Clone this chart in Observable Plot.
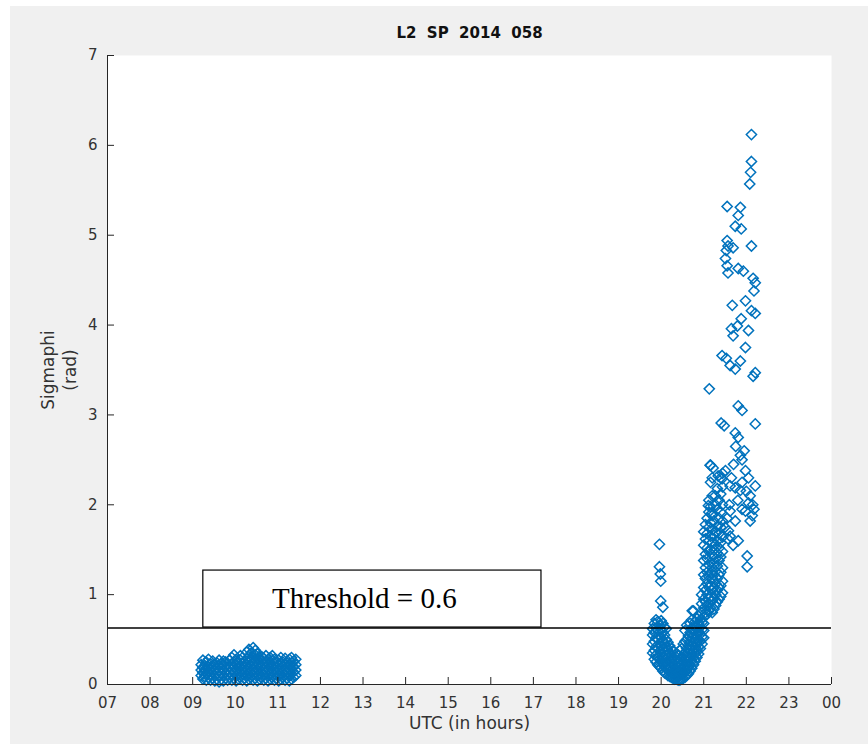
<!DOCTYPE html>
<html><head><meta charset="utf-8">
<script src="https://cdn.jsdelivr.net/npm/d3@7"></script>
<script src="https://cdn.jsdelivr.net/npm/@observablehq/plot@0.6"></script>
<style>
html,body{margin:0;padding:0;background:#fff;}
#chart{position:absolute;left:10px;top:6px;width:858px;height:738px;background:#f0f0f0;}
</style></head><body><div id="chart"></div>
<script>
// ---- Axis ticks ----
const xTicks = [7,8,9,10,11,12,13,14,15,16,17,18,19,20,21,22,23,24];
const xTickLabels = ["07","08","09","10","11","12","13","14","15","16","17","18","19","20","21","22","23","00"];
const yTicks = [0,1,2,3,4,5,6,7];
const titleText = "L2  SP  2014  058";
const xLabel = "UTC (in hours)";
const yLabel = "Sigmaphi\n(rad)";
const thresholdValue = 0.63;
const thresholdText = "Threshold = 0.6";
const thresholdBox = {x1: 9.25, x2: 17.19, y1: 0.634, y2: 1.268, tx: 13.03, ty: 0.95};

// ---- Morning pass (columns of samples) ----
const amHours = [9.20,9.24,9.28,9.32,9.37,9.42,9.47,9.52,9.57,9.62,9.67,9.72,9.77,9.82,9.87,9.92,9.97,10.02,10.07,10.12,10.17,10.22,10.27,10.32,10.37,10.42,10.47,10.52,10.57,10.62,10.67,10.72,10.77,10.82,10.87,10.92,10.97,11.02,11.07,11.12,11.17,11.22,11.27,11.32,11.37,11.42];
const amSigma = [
 [.10,.16,.22],[.06,.13,.19,.27],[.09,.15,.21],[.05,.12,.18,.25],[.08,.14,.20,.28],
 [.05,.11,.17,.23],[.07,.13,.19,.26],[.04,.10,.16,.22],[.06,.12,.18,.24],[.03,.09,.15,.21,.27],
 [.06,.12,.18,.23],[.04,.10,.16,.22,.26],[.07,.13,.19,.25],[.05,.11,.17,.23],[.08,.14,.20,.27],
 [.05,.11,.17,.23,.30],[.07,.13,.19,.25,.33],[.04,.10,.16,.22,.28],[.06,.12,.18,.24],[.08,.14,.20,.27,.32],
 [.05,.11,.17,.23,.30],[.07,.13,.19,.25],[.04,.10,.16,.22,.29,.36],[.06,.12,.18,.24,.31,.39],[.08,.14,.20,.27,.35],
 [.05,.11,.17,.23,.30,.41],[.07,.13,.19,.26,.33,.38],[.04,.10,.16,.22,.28,.34],[.06,.12,.18,.24,.30],[.08,.14,.20,.26,.31],
 [.05,.11,.17,.23,.29],[.07,.13,.19,.25,.32],[.04,.10,.16,.22,.28],[.06,.12,.18,.24,.30],[.08,.14,.20,.26,.32],
 [.05,.11,.17,.23,.28],[.07,.13,.19,.25],[.04,.10,.16,.22,.27],[.06,.12,.18,.24,.30],[.08,.14,.20,.25],
 [.05,.11,.17,.23,.29],[.07,.13,.19,.24],[.04,.10,.16,.22,.28],[.06,.12,.18,.24,.30],[.08,.14,.20,.26],
 [.10,.16,.22,.28]
];

// ---- Evening pass, low V-shaped part ----
const pmLowHours = [19.80,19.84,19.88,19.92,19.96,20.00,20.04,20.08,20.12,20.16,20.20,20.24,20.28,20.32,20.36,20.40,20.44,20.48,20.52,20.56,20.60,20.64,20.68,20.72,20.76,20.80,20.84,20.88,20.92,20.96,21.00];
const pmLowSigma = [
 [.35,.45,.55,.62],[.28,.38,.48,.58,.68],[.25,.33,.42,.52,.63,.72],[.22,.30,.40,.50,.60,.70],
 [.20,.28,.37,.46,.55,.66],[.18,.26,.34,.43,.52,.61,.71],[.15,.23,.31,.40,.49,.58,.68],[.13,.20,.28,.37,.46,.55,.64],
 [.12,.18,.25,.33,.42,.50,.62],[.10,.16,.23,.30,.38,.47],[.09,.14,.20,.27,.35,.43],[.08,.13,.19,.25,.32,.40],
 [.07,.12,.17,.23,.30,.37],[.06,.11,.16,.22,.28],[.06,.10,.15,.21,.27,.34],[.05,.09,.14,.20,.26,.33],
 [.05,.10,.15,.21,.28,.38],[.06,.11,.16,.22,.30,.40],[.07,.12,.18,.25,.33,.45],[.08,.14,.20,.28,.36,.48,.60],
 [.10,.16,.23,.31,.40,.50,.66],[.12,.19,.27,.35,.44,.54],[.15,.22,.30,.39,.48,.58,.68],[.18,.26,.34,.43,.52,.62,.72],
 [.22,.30,.38,.47,.56,.65,.82],[.26,.34,.42,.51,.60,.70],[.30,.38,.46,.55,.64,.73],[.34,.42,.50,.59,.68,.76],
 [.40,.48,.56,.64,.72],[.45,.53,.61,.69],[.52,.60,.68]
];

// ---- Evening pass, rising column ----
const pmMidHours = [20.95,21.00,21.04,21.08,21.12,21.16,21.20,21.24,21.28,21.32,21.36,21.40,21.44];
const pmMidSigma = [
 [.80,.90,1.0],
 [.75,.85,.95,1.08,1.22,1.38,1.55,1.70],
 [.80,.92,1.05,1.18,1.30,1.45,1.62,1.78],
 [.78,.88,1.00,1.12,1.25,1.40,1.52,1.68,1.85],
 [.82,.95,1.08,1.20,1.33,1.48,1.60,1.75,1.92,2.05],
 [.85,.98,1.10,1.24,1.36,1.50,1.65,1.80,1.98,2.25,2.44],
 [.80,.93,1.05,1.17,1.30,1.44,1.58,1.72,1.88,2.10,2.30],
 [.84,.96,1.08,1.22,1.35,1.50,1.66,1.82],
 [.88,1.00,1.12,1.26,1.40,1.56,1.70,2.00],
 [.92,1.05,1.18,1.32,1.46,1.60,1.76,1.95,2.18],
 [.95,1.08,1.22,1.38,1.52,1.68,1.85,2.05],
 [.98,1.10,1.25,1.42,1.58,1.75,1.92,2.12,2.30],
 [1.02,1.15,1.30,1.48,1.64,1.82,2.00,2.20,2.35]
];

// ---- Evening pass, scattered high values ----
const pmHighHours = [22.12,22.12,22.10,22.08,21.55,21.86,21.81,21.74,21.88,21.55,21.57,21.53,21.69,22.12,21.51,21.55,21.57,21.81,21.93,22.16,22.21,22.18,21.98,21.67,22.12,22.21,21.88,21.79,21.65,22.05,21.69,21.98,21.43,21.53,21.62,21.74,21.86,22.21,22.16,21.13,21.81,21.90,21.41,21.48,22.21,21.74,21.81,21.86,21.15,21.22,21.34,21.43,21.51,21.98,22.05,21.62,21.74,21.86,22.21,22.09,22.05,21.98,22.14,22.09,21.27,21.11,21.20,21.62,21.74,21.58,21.81,21.69,22.02,22.02,19.96,19.96,19.98,19.99,19.99,20.04,20.73,21.60,21.65,21.70,21.90,22.00,22.15,22.18,21.90,21.80,21.55,21.50,21.57,21.62,21.95,21.75,21.90];
const pmHighSigma = [6.12,5.82,5.70,5.57,5.32,5.31,5.22,5.10,5.07,4.94,4.88,4.83,4.86,4.88,4.74,4.66,4.58,4.63,4.60,4.52,4.47,4.38,4.27,4.22,4.16,4.13,4.07,3.99,3.96,3.94,3.88,3.75,3.66,3.63,3.55,3.51,3.60,3.47,3.43,3.29,3.10,3.05,2.91,2.88,2.90,2.80,2.75,2.55,2.44,2.41,2.32,2.29,2.38,2.38,2.30,2.21,2.19,2.16,2.21,2.10,2.02,1.93,1.88,1.82,2.10,1.99,1.91,1.93,1.82,1.71,1.60,1.55,1.43,1.31,1.56,1.31,1.23,1.15,0.93,0.86,0.82,2.00,2.30,2.45,2.25,2.15,2.00,1.95,1.95,2.05,1.85,1.75,1.62,1.65,2.60,2.65,2.50];

// ---- Build the point table ----
const points = [];
function addColumns(hours, sigmas) {
  hours.forEach((h, i) => sigmas[i].forEach(s => points.push({hour: h, sigma: s})));
}
addColumns(amHours, amSigma);
addColumns(pmLowHours, pmLowSigma);
addColumns(pmMidHours, pmMidSigma);
pmHighHours.forEach((h, i) => points.push({hour: h, sigma: pmHighSigma[i]}));

const axisColor = "#262626";
const fmtX = d => xTickLabels[xTicks.indexOf(d)];

const chart = Plot.plot({
  width: 858, height: 738,
  marginLeft: 97, marginRight: 37, marginTop: 49, marginBottom: 60,
  style: {background: "#f0f0f0", fontFamily: "DejaVu Sans", color: axisColor, overflow: "visible"},
  x: {domain: [7, 24], axis: null},
  y: {domain: [0, 7], axis: null},
  marks: [
    Plot.frame({fill: "white", stroke: null}),
    Plot.dot(points, {x: "hour", y: "sigma", symbol: "diamond2", r: 4.6, stroke: "#0072BD", fill: "none", strokeWidth: 1.5}),
    Plot.ruleY([thresholdValue], {stroke: "black", strokeWidth: 1.5}),
    Plot.rect([thresholdBox], {x1: "x1", x2: "x2", y1: "y1", y2: "y2", fill: "white", stroke: "black", strokeWidth: 1.2}),
    Plot.text([thresholdBox], {x: "tx", y: "ty", text: () => thresholdText, fontFamily: "Liberation Serif", fontSize: 29, fill: "black"}),
    Plot.ruleY([0], {stroke: axisColor, strokeWidth: 1}),
    Plot.ruleX([7], {stroke: axisColor, strokeWidth: 1}),
    Plot.axisX(xTicks, {tickSize: -7, tickFormat: () => "", stroke: axisColor, label: null}),
    Plot.axisX(xTicks, {tickSize: 0, tickPadding: 13, tickFormat: fmtX, fontSize: 15, fill: "#333", label: null}),
    Plot.axisY(yTicks, {tickSize: -7, tickFormat: () => "", stroke: axisColor, label: null}),
    Plot.axisY(yTicks, {tickSize: 0, tickPadding: 10, tickFormat: d => String(d), fontSize: 15, fill: "#333", label: null}),
    Plot.text([titleText], {frameAnchor: "top", dy: -28, text: d => d, fontSize: 15, fontWeight: "bold", fill: "#111"}),
    Plot.text([xLabel], {frameAnchor: "bottom", dy: 44, text: d => d, fontSize: 17, fill: "#333"}),
    Plot.text([yLabel], {frameAnchor: "left", dx: -50, rotate: -90, textAnchor: "middle", text: d => d, fontSize: 17, lineHeight: 1.3, fill: "#333"})
  ]
});
chart.querySelectorAll("text").forEach(t => t.setAttribute("xml:space", "preserve"));
chart.style.whiteSpace = "pre";
document.getElementById("chart").appendChild(chart);
</script>
</body></html>
